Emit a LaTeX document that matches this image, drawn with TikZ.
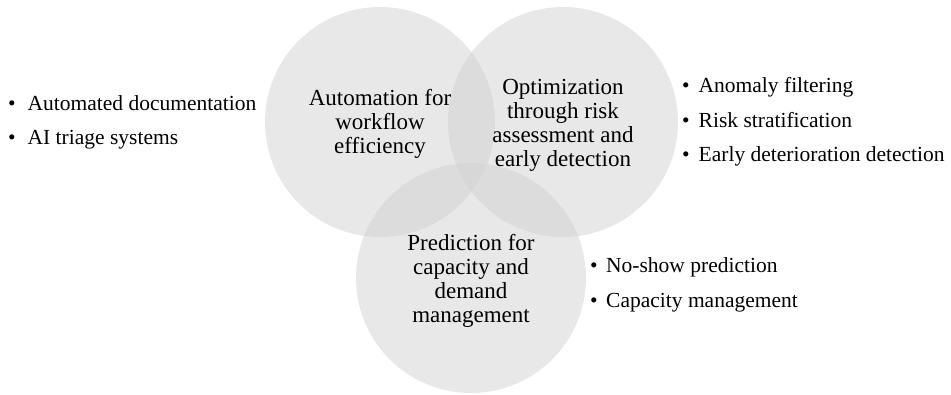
\documentclass[tikz,border=0pt]{standalone}
\usepackage{fontspec}
\setmainfont{Liberation Serif}
\begin{document}
\begin{tikzpicture}[x=1pt,y=-1pt,
  disc/.style={fill=black!18,fill opacity=0.5,draw=none},
  theme/.style={align=center,inner sep=0pt,text opacity=1,
    font=\fontsize{23}{24}\selectfont},
  item/.style={anchor=base west,inner sep=0pt,
    font=\fontsize{21.5}{24}\selectfont}]
  \useasboundingbox (0,0) rectangle (951,394);
  % three overlapping theme circles
  \fill[disc] (380,122) circle (115pt);
  \fill[disc] (563,122) circle (115pt);
  \fill[disc] (471,278) circle (115pt);
  % circle titles
  \node[theme] (auto) at (380,124) {Automation for\\workflow\\efficiency};
  \node[theme] (opt) at (563,125) {Optimization\\through risk\\assessment and\\early detection};
  \node[theme] (pred) at (471,280.5) {Prediction for\\capacity and\\demand\\management};
  % bullet lists
  \node[item] (a1) at (8,110) {\makebox[19.5pt][l]{•}Automated documentation};
  \node[item] (a2) at (8,144.5) {\makebox[19.5pt][l]{•}AI triage systems};
  \node[item] (o1) at (682,92.5) {\makebox[16.5pt][l]{•}Anomaly filtering};
  \node[item] (o2) at (682,127) {\makebox[16.5pt][l]{•}Risk stratification};
  \node[item] (o3) at (682,161.5) {\makebox[16.5pt][l]{•}Early deterioration detection};
  \node[item] (p1) at (590,272.5) {\makebox[16pt][l]{•}No-show prediction};
  \node[item] (p2) at (590,307) {\makebox[16pt][l]{•}Capacity management};
\end{tikzpicture}
\end{document}
